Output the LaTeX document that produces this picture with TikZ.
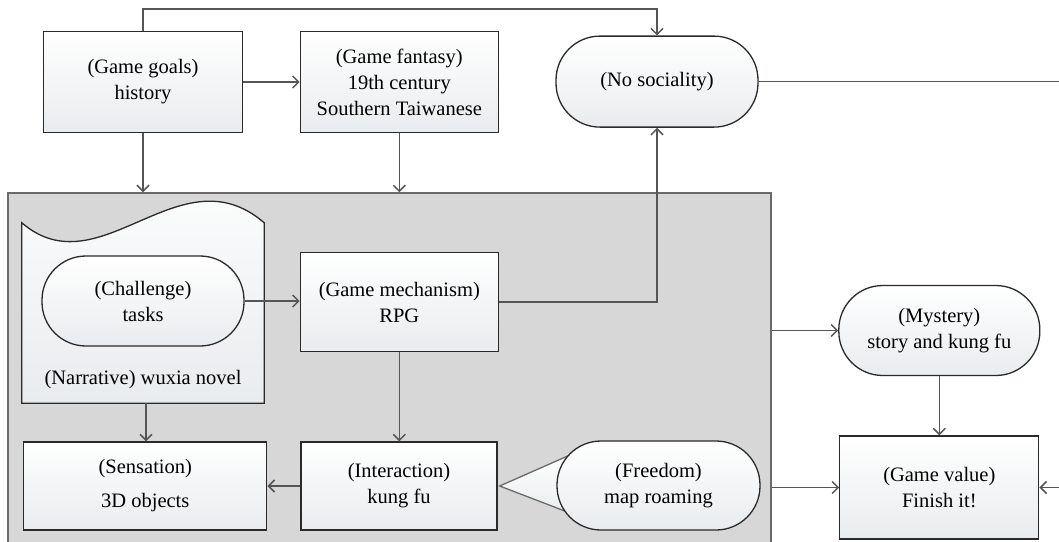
\documentclass[tikz,border=0pt]{standalone}
\usepackage{fontspec}
\setmainfont{Liberation Serif}
\usetikzlibrary{arrows.meta}
\definecolor{boxlow}{HTML}{E9ECEE}
\definecolor{coregray}{HTML}{D7D7D7}
\definecolor{framegray}{HTML}{6A6A6A}
\definecolor{linegray}{HTML}{555555}
\definecolor{edgedark}{HTML}{2A2A2A}
\begin{document}
\begin{tikzpicture}[x=1pt,y=-1pt,>={Straight Barb[length=6pt,width=12pt]},
	font=\fontsize{20.5}{26}\selectfont,
	block/.style={draw=edgedark,line width=1.3pt,top color=white,bottom color=boxlow,align=center,inner sep=2pt},
	pill/.style={block,rounded corners=44pt},
	link/.style={draw=linegray,line width=1.5pt}]
		\useasboundingbox (0,0) rectangle (1059,541);
		% grey core frame
		\node[draw=framegray,fill=coregray,line width=1.4pt,minimum width=763pt,minimum height=356pt] (core) at (389.5,371) {};
		% top row
		\node[block,minimum width=199pt,minimum height=101pt] (goals) at (143,82) {(Game goals)\\history};
		\node[block,minimum width=198pt,minimum height=101pt] (fantasy) at (399.3,82) {(Game fantasy)\\19th century\\Southern Taiwanese};
		\node[pill,minimum width=202pt,minimum height=91pt] (nosoc) at (657,81.6) {(No sociality)};
		% narrative document
		\node[minimum width=242pt,minimum height=180pt,inner sep=0pt] (doc) at (143,313) {};
		\draw[draw=edgedark,line width=1.3pt,top color=white,bottom color=boxlow] (doc.south west) -- (doc.north west)
			.. controls (100,290) and (180,150) .. (doc.north east) -- (doc.south east) -- cycle;
		\node (nartxt) at (143,380) {(Narrative) wuxia novel};
		\node[pill,minimum width=202pt,minimum height=90pt] (chal) at (143,301) {(Challenge)\\tasks};
		\node[block,minimum width=198pt,minimum height=99pt] (mech) at (399.3,302) {(Game mechanism)\\RPG};
		% bottom row
		\node[block,minimum width=243pt,minimum height=88pt,font=\fontsize{20.5}{34}\selectfont] (sens) at (145.3,486) {(Sensation)\\3D objects};
		\node[block,minimum width=196pt,minimum height=88pt] (inter) at (399,486) {(Interaction)\\kung fu};
		\draw[draw=framegray,line width=1.3pt,top color=white,bottom color=boxlow] ([xshift=2pt]inter.east) -- (570,455) -- (570,513) -- cycle;
		\node[pill,minimum width=203pt,minimum height=89pt] (free) at (658.5,485.5) {(Freedom)\\map roaming};
		% right column
		\node[pill,minimum width=201pt,minimum height=90pt] (myst) at (939.3,330.5) {(Mystery)\\story and kung fu};
		\node[block,minimum width=199pt,minimum height=103pt] (value) at (939.3,487.5) {(Game value)\\Finish it!};
		\coordinate (rtop) at (1065,81.6);
		\coordinate (rbot) at (1065,487.5);
		% connectors
		\draw[link,->] (goals.north) -- ++(0,-22) -| (nosoc.north);
		\draw[link,->] (goals.east) -- (fantasy.west);
		\draw[link,->] (goals.south) -- (goals.south |- core.north);
		\draw[link,->] (fantasy.south) -- (fantasy.south |- core.north);
		\draw[link,->] (chal.east) -- (chal.east -| mech.west);
		\draw[link,->] (mech.east) -| (nosoc.south);
		\draw[link] (nosoc.east) -- (rtop);
		\draw[link,->] ([xshift=3pt]doc.south) -- ([xshift=3pt]doc.south |- sens.north);
		\draw[link,->] (mech.south) -- (mech.south |- inter.north);
		\draw[link,->] (inter.west) -- (sens.east);
		\draw[link,->] (core.east |- myst.west) -- (myst.west);
		\draw[link,->] (myst.south) -- (value.north);
		\draw[link,->] (core.east |- value.west) -- (value.west);
		\draw[link,->] (rbot) -- (value.east);
\end{tikzpicture}
\end{document}
